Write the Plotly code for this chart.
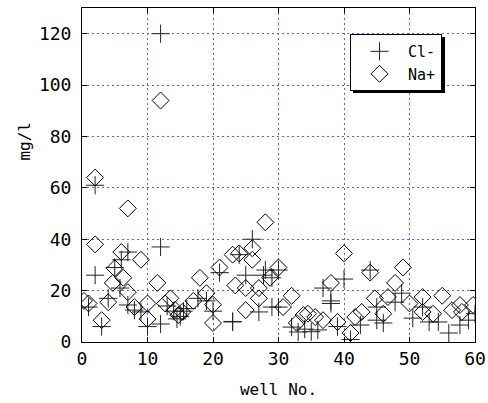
import plotly.graph_objects as go

# Cl- (plus markers): well number, concentration (mg/l)
cl_x = [12, 2, 12, 2, 1, 3, 4, 5, 6, 7, 7, 8, 9, 10, 5.8, 12, 14, 15, 15.5, 17.7,
        19, 20, 21, 23, 26, 24, 25, 27.7, 29, 30, 27, 29, 30, 28, 23, 32, 33, 34, 35,
        36, 36.8, 38, 38, 39, 40, 41, 42.5, 44, 45, 45, 46, 47.8, 48.8, 50.5, 52, 53,
        54.4, 56, 57.7, 59, 60, 13, 14.5, 16]
cl_y = [120, 61, 37, 26, 13.6, 6, 17, 29, 32, 35, 14.4, 12.4, 11.7, 6, 21, 7, 12, 10, 12, 17,
        16, 12, 27, 8, 40, 34, 26, 26, 25, 28, 11.7, 13.6, 13.6, 28, 7.8, 5.8, 3.9, 5, 4,
        4.7, 21, 15, 16, 6, 24.5, 1, 6.6, 28, 8.5, 13.6, 7.4, 15.5, 19, 9.3, 13.6, 7.8,
        7.8, 3.5, 6.6, 8.5, 11, 14, 9, 13]

# Na+ (diamond markers): well number, concentration (mg/l)
na_x = [2, 12, 7, 2, 6, 9, 5, 6.3, 4.7, 7, 1, 4, 3, 8, 10, 10, 11.5, 12.7, 14.2, 15.3,
        14.7, 18, 21, 19, 17, 20, 20, 23, 28, 24, 26, 26, 30, 28.7, 23.4, 25, 27, 32,
        27, 25, 30.7, 33.8, 32.8, 40, 44, 38, 44.7, 42.7, 41.7, 39, 41, 36.8, 35.6,
        34.5, 49, 47.8, 46.7, 50, 52, 55, 52, 53.6, 56.5, 57.7, 58, 59.7, 46, 0.3, 13.5]
na_y = [64, 94, 52, 38, 35, 32, 28.7, 25, 23, 19.4, 15, 15.5, 8.5, 13.6, 15, 9, 23, 15, 12.5, 11.7,
        10.5, 25, 29, 19, 16, 14.5, 7.4, 34, 46.6, 34.5, 36.5, 32, 29, 25, 22, 21, 21, 18,
        17, 12.4, 13.6, 10.5, 7.4, 34.5, 27, 23, 17, 11.7, 9.7, 7.8, 3.5, 8.5, 9.7,
        11, 29, 23, 17.5, 15, 17.5, 18, 11.7, 11, 12.4, 14.4, 11.7, 14.4, 11, 16, 17]

x_ticks = [0, 10, 20, 30, 40, 50, 60]
y_ticks = [0, 20, 40, 60, 80, 100, 120]

FONT = "DejaVu Sans Mono"

fig = go.Figure()
fig.add_trace(go.Scatter(
    x=cl_x, y=cl_y, mode="markers", name="Cl-",
    marker=dict(symbol="cross-thin-open", size=13, color="#222222",
                line=dict(width=1, color="#222222")),
))
fig.add_trace(go.Scatter(
    x=na_x, y=na_y, mode="markers", name="Na+",
    marker=dict(symbol="diamond-open", size=13, color="#000000",
                line=dict(width=1, color="#000000")),
))

axis_common = dict(
    showgrid=True, gridcolor="#5a5aff", griddash="2px,3px", gridwidth=1,
    showline=True, linecolor="black", linewidth=1, mirror="ticks",
    ticks="inside", ticklen=5, tickcolor="black", zeroline=False,
    tickfont=dict(family=FONT, size=18, color="black"),
    automargin=False,
)

fig.update_xaxes(range=[0, 60], tickvals=x_ticks,
                 title=dict(text="well No.", font=dict(family=FONT, size=16, color="black"), standoff=16),
                 **axis_common)
fig.update_yaxes(range=[0, 130], tickvals=y_ticks, ticklabelstandoff=6,
                 **axis_common)

# y axis title placed as in the reference (slightly above centre)
fig.add_annotation(text="mg/l", textangle=-90, xref="paper", yref="paper",
                   x=-0.145, y=0.60, xanchor="center", yanchor="middle",
                   showarrow=False, font=dict(family=FONT, size=16, color="black"))

# legend drop shadow
fig.add_shape(type="rect", xref="paper", yref="paper",
              x0=0.6896, x1=0.9237, y0=0.7455, y1=0.9132,
              fillcolor="black", line=dict(width=0), layer="above")

fig.update_layout(
    width=488, height=403,
    margin=dict(l=82, r=13, t=8, b=61),
    plot_bgcolor="white", paper_bgcolor="white",
    showlegend=True,
    legend=dict(x=0.682, y=0.922, xanchor="left", yanchor="top",
                bgcolor="white", bordercolor="black", borderwidth=1,
                font=dict(family=FONT, size=15, color="black"),
                itemwidth=47, tracegroupgap=0),
)

fig.write_html("out.html")
